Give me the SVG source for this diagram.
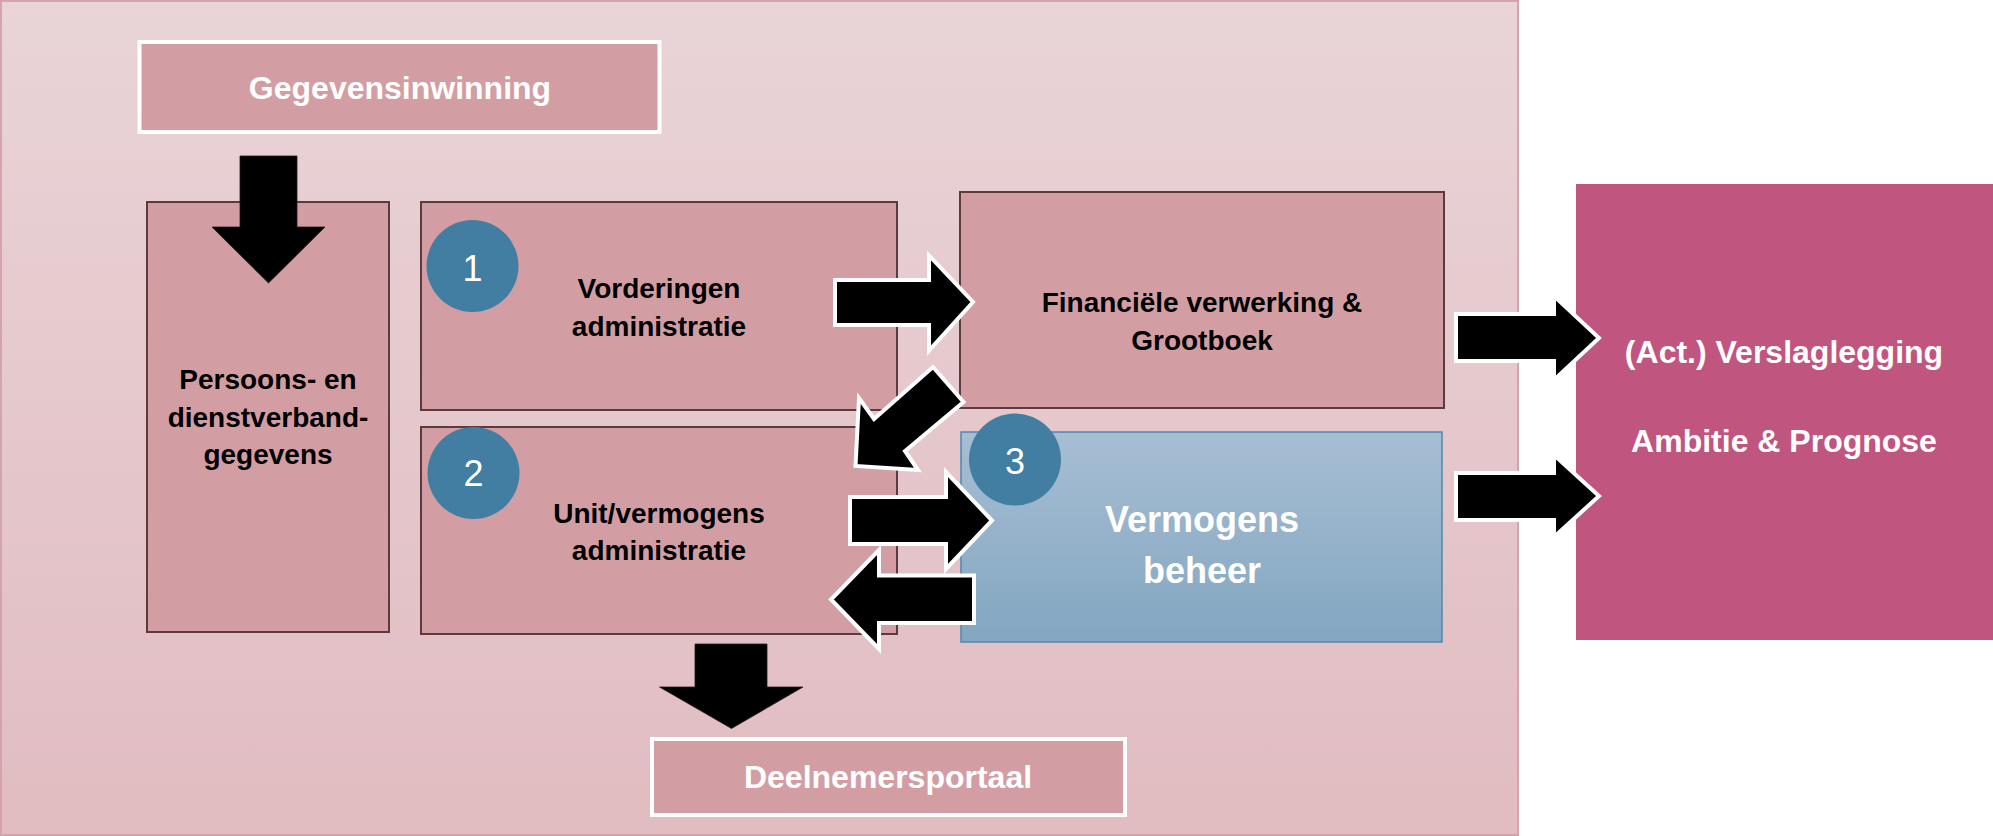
<svg xmlns="http://www.w3.org/2000/svg" width="1993" height="836" viewBox="0 0 1993 836">
  <defs>
    <linearGradient id="panelGrad" x1="0" y1="0" x2="0" y2="1">
      <stop offset="0" stop-color="#e9d4d7"/>
      <stop offset="1" stop-color="#e1bcc1"/>
    </linearGradient>
    <linearGradient id="blueGrad" x1="0" y1="0" x2="0" y2="1">
      <stop offset="0" stop-color="#a7bed3"/>
      <stop offset="1" stop-color="#83a6c1"/>
    </linearGradient>
    <style>
      .box { fill: #d39ea3; stroke: #5b3b40; stroke-width: 2; }
      .wbox { fill: #d39ea3; stroke: #ffffff; stroke-width: 4; }
      .lbl { font-family: "Liberation Sans", Arial, sans-serif; font-weight: bold; font-size: 28px; fill: #000000; text-anchor: middle; }
      .wlbl { font-family: "Liberation Sans", Arial, sans-serif; font-weight: bold; font-size: 32px; fill: #ffffff; text-anchor: middle; }
      .num { font-family: "Liberation Sans", Arial, sans-serif; font-size: 36px; fill: #ffffff; text-anchor: middle; }
      .badge { fill: #417ea2; }
      .arrow { fill: #000000; stroke: #ffffff; stroke-width: 4; stroke-linejoin: miter; }
      .arrowplain { fill: #000000; stroke: #2a1a1c; stroke-width: 0.8; }
    </style>
  </defs>

  <rect x="0" y="0" width="1993" height="836" fill="#ffffff"/>

  <g id="panel">
    <rect x="1" y="1" width="1517" height="834" fill="url(#panelGrad)" stroke="#d3a4aa" stroke-width="2"/>
  </g>

  <g id="node-gegevensinwinning">
    <rect class="wbox" x="139.5" y="42" width="520" height="90"/>
    <text class="wlbl" x="400" y="99">Gegevensinwinning</text>
  </g>

  <g id="node-persoons">
    <rect class="box" x="147" y="202" width="242" height="430"/>
    <text class="lbl" x="268" y="389">Persoons- en</text>
    <text class="lbl" x="268" y="427">dienstverband-</text>
    <text class="lbl" x="268" y="464">gegevens</text>
  </g>

  <g id="node-vorderingen">
    <rect class="box" x="421" y="202" width="476" height="208"/>
    <ellipse class="badge" cx="472.5" cy="266" rx="46" ry="46"/>
    <text class="num" x="472.5" y="281">1</text>
    <text class="lbl" x="659" y="298">Vorderingen</text>
    <text class="lbl" x="659" y="336">administratie</text>
  </g>

  <g id="node-unit">
    <rect class="box" x="421" y="427" width="476" height="207"/>
    <ellipse class="badge" cx="473.5" cy="473" rx="46" ry="46"/>
    <text class="num" x="473.5" y="486">2</text>
    <text class="lbl" x="659" y="523">Unit/vermogens</text>
    <text class="lbl" x="659" y="560">administratie</text>
  </g>

  <g id="node-financiele">
    <rect class="box" x="960" y="192" width="484" height="216"/>
    <text class="lbl" x="1202" y="312">Financiële verwerking &amp;</text>
    <text class="lbl" x="1202" y="350">Grootboek</text>
  </g>

  <g id="node-vermogensbeheer">
    <rect x="961" y="432" width="481" height="210" fill="url(#blueGrad)" stroke="#4f88b0" stroke-width="1.5"/>
    <ellipse class="badge" cx="1015" cy="459.5" rx="46" ry="46"/>
    <text class="num" x="1015" y="474">3</text>
    <text class="wlbl" x="1202" y="532" style="font-size:36px">Vermogens</text>
    <text class="wlbl" x="1202" y="583" style="font-size:36px">beheer</text>
  </g>

  <g id="node-deelnemersportaal">
    <rect class="wbox" x="652" y="739" width="473" height="76"/>
    <text class="wlbl" x="888" y="788">Deelnemersportaal</text>
  </g>

  <g id="node-verslaglegging">
    <rect x="1576" y="184" width="417" height="456" fill="#c05680"/>
    <text class="wlbl" x="1784" y="363">(Act.) Verslaglegging</text>
    <text class="wlbl" x="1784" y="452">Ambitie &amp; Prognose</text>
  </g>

  <g id="connectors">
    <polygon class="arrowplain" points="240,156 297,156 297,227 325,227 268.5,283 212,227 240,227"/>
    <polygon class="arrow" points="835,280 929,280 929,255.5 973,302 929,350.5 929,325 835,325"/>
    <polygon class="arrow" points="933,367 963.5,402 905,451 918,470 855.5,466 859,398 874,419"/>
    <polygon class="arrow" points="850,497 946,497 946,472 992,520.5 946,569 946,544 850,544"/>
    <polygon class="arrow" points="974,575.5 879,575.5 879,550 831,599.5 879,649 879,623 974,623"/>
    <polygon class="arrowplain" points="695,644 767,644 767,687 803,687 731.5,728.5 659.5,687 695,687"/>
    <polygon class="arrow" points="1456,314 1554,314 1554,296 1599,338 1554,380 1554,361 1456,361"/>
    <polygon class="arrow" points="1456,473 1554,473 1554,455 1599,496 1554,537 1554,520 1456,520"/>
  </g>
</svg>
